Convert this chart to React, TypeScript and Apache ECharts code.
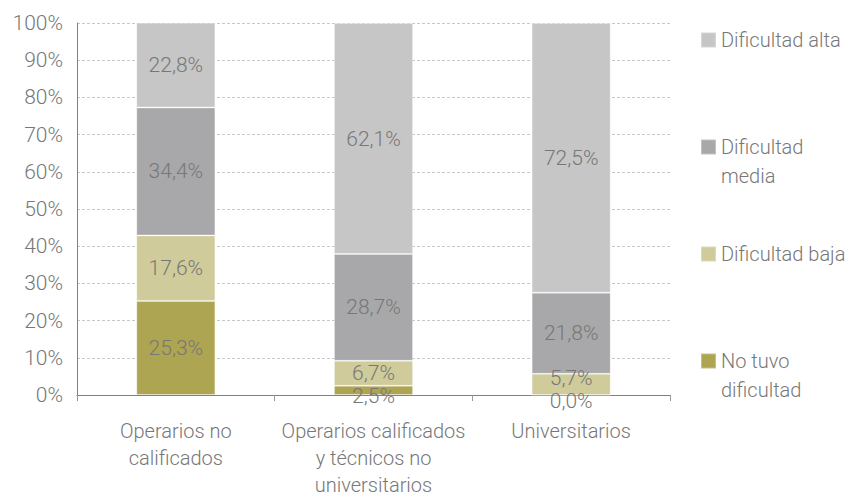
import React, { useEffect, useRef } from "react";
import * as echarts from "echarts";

const categories = [
  "Operarios no\ncalificados",
  "Operarios calificados\ny técnicos no\nuniversitarios",
  "Universitarios",
];
const seriesNames = ["No tuvo dificultad", "Dificultad baja", "Dificultad media", "Dificultad alta"];
const noTuvo = [25.3, 2.5, 0.0];
const baja = [17.6, 6.7, 5.7];
const media = [34.4, 28.7, 21.8];
const alta = [22.8, 62.1, 72.5];
const yTicks = [0, 10, 20, 30, 40, 50, 60, 70, 80, 90, 100];

const colors = ["#AEA552", "#CFCB9A", "#A8A8AA", "#C6C6C6"];
const FONT = "Roboto, 'Noto Sans', sans-serif";
const FW = 300;
const TXT = "#777777";

const fmt = (v: number) => v.toFixed(1).replace(".", ",") + "%";

export default function App() {
  const ref = useRef<HTMLDivElement>(null);
  useEffect(() => {
    if (!ref.current) return;
    const chart = echarts.init(ref.current, undefined, { renderer: "svg" });
    const allData = [noTuvo, baja, media, alta];
    // small label nudges matching the reference placement of crowded labels
    const nudge = (si: number, di: number, v: number): number[] => {
      if (si === 0 && v < 3) return [0, 6];
      if (si === 1 && di === 2) return [0, -6];
      return [0, 0];
    };
    const LH = 29;
    // leading blank line keeps the icon level with the first text line
    const legendLabels = [" \nNo tuvo\ndificultad", "Dificultad baja", " \nDificultad\nmedia", "Dificultad alta"];
    const legendCenters = [361, 254, 147, 40];
    const legends = seriesNames.map((n, i) => {
      const lines = legendLabels[i].split("\n").length;
      return {
        data: [n],
        left: 695,
        top: legendCenters[i] - 5 - (LH * lines) / 2,
        orient: "vertical",
        itemWidth: 15,
        itemHeight: 15,
        itemGap: 0,
        icon: "rect",
        formatter: () => legendLabels[i],
        textStyle: {
          fontFamily: FONT,
          fontWeight: FW,
          fontSize: 20,
          color: TXT,
          lineHeight: LH,
        },
      };
    });
    const option: any = {
      animation: false,
      textStyle: { fontFamily: FONT },
      grid: { left: 77, right: 189, top: 23, bottom: 102, containLabel: false, outerBoundsMode: "none" },
      legend: legends,
      xAxis: {
        type: "category",
        data: categories,
        axisLine: { lineStyle: { color: "#808080", width: 1 } },
        axisTick: { show: true, alignWithLabel: false, length: 6, lineStyle: { color: "#999" } },
        axisLabel: {
          fontFamily: FONT,
          fontWeight: FW,
          fontSize: 20,
          color: TXT,
          lineHeight: 27,
          margin: 22,
          interval: 0,
        },
      },
      yAxis: {
        type: "value",
        min: 0,
        max: 100,
        interval: 10,
        axisLine: { show: true, lineStyle: { color: "#808080", width: 1 } },
        axisTick: { show: false },
        splitLine: { lineStyle: { color: "#c8c8c8", type: [3, 2] } },
        axisLabel: {
          fontFamily: FONT,
          fontWeight: FW,
          fontSize: 21,
          color: TXT,
          margin: 14,
          formatter: (v: number) => (yTicks.includes(v) ? v + "%" : ""),
        },
      },
      series: allData.map((arr, si) => ({
        name: seriesNames[si],
        type: "bar",
        stack: "total",
        barWidth: "40%",
        itemStyle: { color: colors[si], borderColor: "rgba(255,255,255,0.3)", borderWidth: 1 },
        label: {
          show: true,
          position: "inside",
          fontFamily: FONT,
          fontWeight: FW,
          fontSize: 21,
          color: TXT,
          formatter: (p: any) => fmt(p.value),
        },
        data: arr.map((v, di) => ({
          value: v,
          label: { offset: nudge(si, di, v) },
        })),
      })),
    };
    chart.setOption(option);
    return () => chart.dispose();
  }, []);
  return (
    <div
      ref={ref}
      style={{ position: "fixed", left: 0, top: 0, width: 859, height: 497, background: "#fff" }}
    />
  );
}
